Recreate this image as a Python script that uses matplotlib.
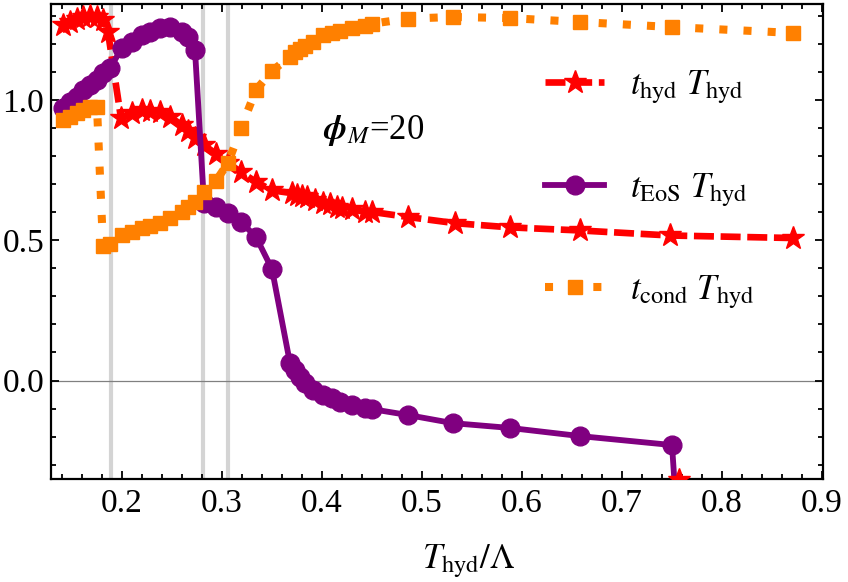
import matplotlib
matplotlib.use("Agg")
import matplotlib.pyplot as plt
from matplotlib.ticker import MultipleLocator, FixedLocator

plt.rcParams['font.family'] = ['Liberation Serif', 'DejaVu Serif']
plt.rcParams['mathtext.fontset'] = 'stix'

# ---------------- data ----------------
x_hyd = [0.141, 0.148, 0.155, 0.161, 0.168, 0.175, 0.181, 0.186, 0.199, 0.210, 0.220,
         0.228, 0.238, 0.248, 0.260, 0.266, 0.273, 0.282, 0.294, 0.306, 0.319, 0.334,
         0.350, 0.370, 0.375, 0.380, 0.385, 0.393, 0.401, 0.408, 0.415, 0.420, 0.430,
         0.443, 0.450, 0.486, 0.533, 0.588, 0.658, 0.748, 0.871]
y_hyd = [1.267, 1.278, 1.289, 1.296, 1.300, 1.296, 1.285, 1.242, 0.935, 0.955, 0.963,
         0.962, 0.957, 0.939, 0.911, 0.890, 0.866, 0.839, 0.808, 0.775, 0.743, 0.708,
         0.678, 0.668, 0.661, 0.658, 0.654, 0.643, 0.633, 0.629, 0.618, 0.615, 0.611,
         0.601, 0.601, 0.583, 0.561, 0.546, 0.535, 0.517, 0.508]
# off-scale point of the t_hyd series
x_hyd_off = [0.757]
y_hyd_off = [-0.353]

x_eos = [0.141, 0.148, 0.155, 0.161, 0.168, 0.175, 0.181, 0.188, 0.200, 0.210, 0.220,
         0.228, 0.238, 0.248, 0.260, 0.266, 0.273, 0.282, 0.294, 0.306, 0.319, 0.334,
         0.350, 0.368, 0.373, 0.378, 0.383, 0.391, 0.401, 0.410, 0.418, 0.430, 0.443,
         0.450, 0.486, 0.531, 0.588, 0.658, 0.750, 0.757]
y_eos = [0.971, 0.993, 1.011, 1.036, 1.053, 1.071, 1.096, 1.114, 1.185, 1.207, 1.232,
         1.242, 1.257, 1.260, 1.242, 1.225, 1.178, 0.633, 0.618, 0.597, 0.565, 0.512,
         0.397, 0.062, 0.037, 0.012, -0.009, -0.034, -0.052, -0.062, -0.077, -0.087, -0.098,
         -0.102, -0.123, -0.152, -0.169, -0.198, -0.230, -0.60]

x_cond = [0.141, 0.148, 0.155, 0.161, 0.168, 0.175, 0.181, 0.188, 0.200, 0.210, 0.220,
          0.228, 0.238, 0.248, 0.260, 0.266, 0.273, 0.282, 0.294, 0.306, 0.319, 0.334,
          0.350, 0.368, 0.373, 0.378, 0.383, 0.391, 0.401, 0.410, 0.418, 0.430, 0.443,
          0.450, 0.486, 0.531, 0.588, 0.658, 0.750, 0.871]
y_cond = [0.929, 0.939, 0.954, 0.964, 0.975, 0.975, 0.480, 0.487, 0.519, 0.529, 0.544,
          0.552, 0.563, 0.580, 0.602, 0.618, 0.638, 0.672, 0.712, 0.775, 0.900, 1.036,
          1.103, 1.155, 1.170, 1.182, 1.192, 1.207, 1.230, 1.240, 1.247, 1.257, 1.265,
          1.272, 1.290, 1.296, 1.292, 1.278, 1.260, 1.239]

vlines_x = [0.189, 0.281, 0.3055]

label_hyd = r"$t_{\mathrm{hyd}}\ T_{\mathrm{hyd}}$"
label_eos = r"$t_{\mathrm{EoS}}\ T_{\mathrm{hyd}}$"
label_cond = r"$t_{\mathrm{cond}}\ T_{\mathrm{hyd}}$"
annot = r"$\boldsymbol{\phi}_M$=20"
xlabel = r"$T_{\mathrm{hyd}}/\Lambda$"

# ---------------- figure ----------------
fig = plt.figure(figsize=(8.48, 5.82), dpi=100)
ax = fig.add_axes([51/848, 1 - 479/582, (823-51)/848, (479-3.5)/582])

for xv in vlines_x:
    ax.axvline(xv, color='#d4d4d4', lw=3.0, zorder=1)
ax.axhline(0.0, color='#808080', lw=0.9, zorder=1)

RED = '#ff0000'
PURPLE = '#800080'
ORANGE = '#ff8000'

l1, = ax.plot(x_hyd, y_hyd, color=RED, lw=4.8, dashes=(3.0, 1.0), marker='*', ms=17,
              mec=RED, mfc=RED, label=label_hyd, zorder=3)
ax.plot(x_hyd_off, y_hyd_off, ls='none', marker='*', ms=17, color=RED, zorder=6)
l2, = ax.plot(x_eos, y_eos, color=PURPLE, lw=4.2, marker='o', ms=13.5,
              label=label_eos, zorder=4)
l3, = ax.plot(x_cond, y_cond, color=ORANGE, lw=5.8, dashes=(1.0, 2.0), marker='s', ms=10,
              label=label_cond, zorder=5)
l3.set_dash_capstyle('butt')

ax.set_xlim(0.129, 0.901)
ax.set_ylim(-0.351, 1.344)

ax.xaxis.set_major_locator(FixedLocator([0.2, 0.3, 0.4, 0.5, 0.6, 0.7, 0.8, 0.9]))
ax.xaxis.set_minor_locator(MultipleLocator(0.02))
ax.yaxis.set_major_locator(FixedLocator([0.0, 0.5, 1.0]))
ax.yaxis.set_minor_locator(MultipleLocator(0.1))
ax.tick_params(which='both', direction='in', top=True, right=True, width=1.3,
               labelsize=24)
ax.tick_params(which='major', length=6, pad=7)
ax.tick_params(axis='y', which='major', pad=5)
ax.tick_params(which='minor', length=3.5)
ax.set_xticklabels(['0.2', '0.3', '0.4', '0.5', '0.6', '0.7', '0.8', '0.9'])
ax.set_yticklabels(['0.0', '0.5', '1.0'])
for s in ax.spines.values():
    s.set_linewidth(1.6)

ax.set_xlabel(xlabel, fontsize=25)
ax.xaxis.set_label_coords((468-51)/772, -0.135)

ax.text(0.401, 0.893, annot, fontsize=25, ha='left', va='center')

leg = ax.legend(handles=[l1, l2, l3], loc='upper left', bbox_to_anchor=(0.64, 0.862),
                frameon=False, fontsize=25, handlelength=1.7, handletextpad=0.75,
                labelspacing=1.88, borderpad=0, borderaxespad=0, numpoints=1)

fig.savefig('out.png', dpi=100)
